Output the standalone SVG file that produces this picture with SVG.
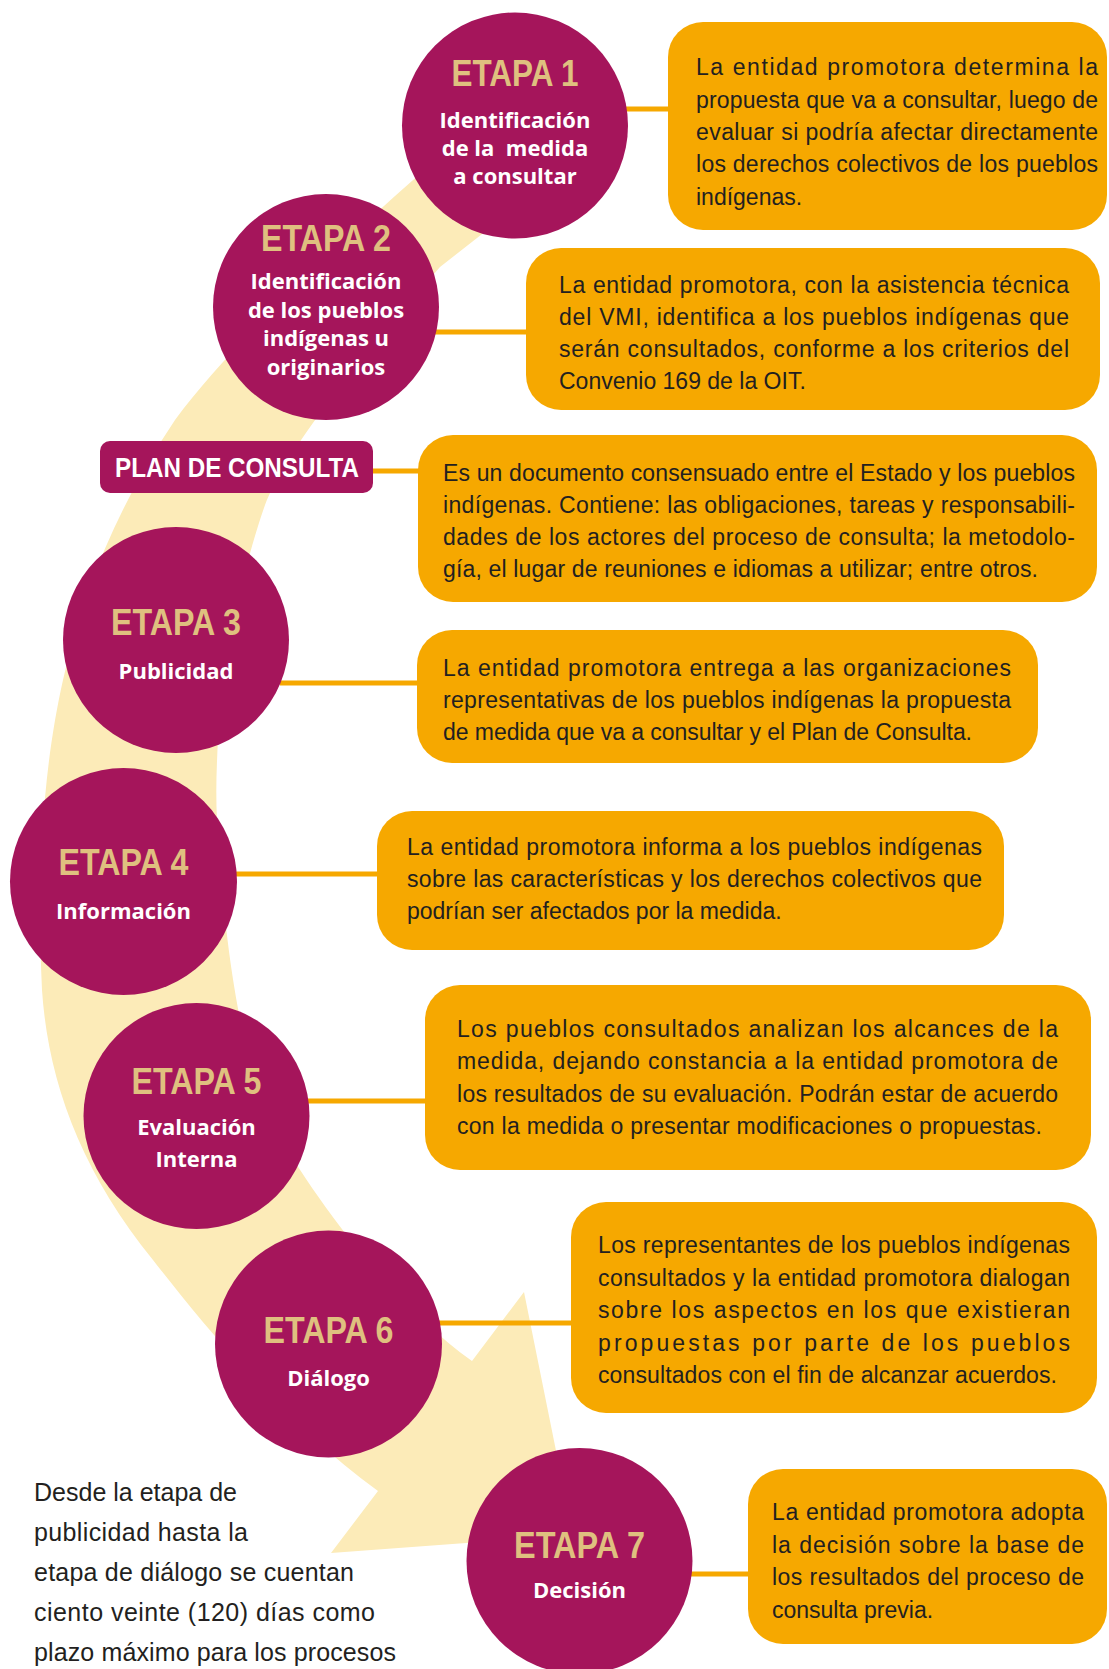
<svg xmlns="http://www.w3.org/2000/svg" width="1109" height="1669" viewBox="0 0 1109 1669">
<style>
.band{fill:#FCEBB8}
.circ{fill:#A5155B}
.box{fill:#F6A800}
.conn{stroke:#F6A800;stroke-width:5;fill:none}
.title{font-family:"Liberation Sans Narrow","Liberation Sans",Arial,sans-serif;font-weight:700;font-size:36px;fill:#DFC07F;text-anchor:middle}
.sub{font-family:"Open Sans","Liberation Sans",sans-serif;font-weight:700;font-size:22px;fill:#FFFFFF;text-anchor:middle}
.body{font-family:"Liberation Sans",Arial,sans-serif;font-size:23px;fill:#231F20}
.note{font-family:"Liberation Sans",Arial,sans-serif;font-size:25px;fill:#231F20}
.plan{font-family:"Liberation Sans Narrow","Liberation Sans",Arial,sans-serif;font-weight:700;font-size:28px;fill:#FFFFFF}
</style>
<rect width="1109" height="1669" fill="#FFFFFF"/>
<g id="band">
<path class="band" d="M 430 165 L 395 196 C 330 255 230 345 175 420 C 125 495 85 580 63 680 C 45 760 36 860 42 990 C 48 1080 80 1170 153 1260 C 200 1320 280 1420 378 1491 L 331 1553 L 573 1535 L 524 1292 L 472 1361 C 400 1310 320 1210 270 1120 C 240 1050 225 950 217 820 C 212 720 235 590 265 505 C 285 455 330 395 440 267 L 500 220 Z"/>
</g>
<g id="connectors">
<line class="conn" x1="620" y1="109" x2="670" y2="109"/>
<line class="conn" x1="430" y1="332" x2="528" y2="332"/>
<line class="conn" x1="370" y1="471" x2="420" y2="471"/>
<line class="conn" x1="280" y1="683" x2="419" y2="683"/>
<line class="conn" x1="230" y1="874" x2="379" y2="874"/>
<line class="conn" x1="300" y1="1101" x2="427" y2="1101"/>
<line class="conn" x1="435" y1="1323" x2="573" y2="1323"/>
<line class="conn" x1="685" y1="1574" x2="750" y2="1574"/>
</g>
<g id="etapa1">
<circle class="circ" cx="515" cy="125.5" r="113"/>
<text class="title" x="515" y="86" textLength="127" lengthAdjust="spacingAndGlyphs">ETAPA 1</text>
<text class="sub" x="515" y="128">Identificación</text>
<text class="sub" x="515" y="156" xml:space="preserve">de la  medida</text>
<text class="sub" x="515" y="184">a consultar</text>
</g>
<g id="box1">
<rect class="box" x="668" y="22" width="439" height="208" rx="35"/>
<text class="body" x="696" y="75" textLength="402" lengthAdjust="spacing">La entidad promotora determina la</text>
<text class="body" x="696" y="107.5" textLength="402" lengthAdjust="spacing">propuesta que va a consultar, luego de</text>
<text class="body" x="696" y="140" textLength="402" lengthAdjust="spacing">evaluar si podría afectar directamente</text>
<text class="body" x="696" y="172" textLength="402" lengthAdjust="spacing">los derechos colectivos de los pueblos</text>
<text class="body" x="696" y="204.5">indígenas.</text>
</g>
<g id="etapa2">
<circle class="circ" cx="326" cy="307" r="113"/>
<text class="title" x="326" y="251" textLength="130" lengthAdjust="spacingAndGlyphs">ETAPA 2</text>
<text class="sub" x="326" y="289">Identificación</text>
<text class="sub" x="326" y="317.5">de los pueblos</text>
<text class="sub" x="326" y="346">indígenas u</text>
<text class="sub" x="326" y="374.5">originarios</text>
</g>
<g id="box2">
<rect class="box" x="526" y="248" width="574" height="162" rx="35"/>
<text class="body" x="559" y="293" textLength="510" lengthAdjust="spacing">La entidad promotora, con la asistencia técnica</text>
<text class="body" x="559" y="325" textLength="510" lengthAdjust="spacing">del VMI, identifica a los pueblos indígenas que</text>
<text class="body" x="559" y="357" textLength="510" lengthAdjust="spacing">serán consultados, conforme a los criterios del</text>
<text class="body" x="559" y="389">Convenio 169 de la OIT.</text>
</g>
<g id="plan">
<rect class="circ" x="100" y="441" width="273" height="52" rx="10"/>
<text class="plan" x="115" y="477" textLength="244" lengthAdjust="spacingAndGlyphs">PLAN DE CONSULTA</text>
</g>
<g id="box3">
<rect class="box" x="418" y="435" width="679" height="167" rx="35"/>
<text class="body" x="443" y="481" textLength="632" lengthAdjust="spacing">Es un documento consensuado entre el Estado y los pueblos</text>
<text class="body" x="443" y="513" textLength="632" lengthAdjust="spacing">indígenas. Contiene: las obligaciones, tareas y responsabili-</text>
<text class="body" x="443" y="545" textLength="632" lengthAdjust="spacing">dades de los actores del proceso de consulta; la metodolo-</text>
<text class="body" x="443" y="577" textLength="595" lengthAdjust="spacing">gía, el lugar de reuniones e idiomas a utilizar; entre otros.</text>
</g>
<g id="etapa3">
<circle class="circ" cx="176" cy="640" r="113"/>
<text class="title" x="176" y="635" textLength="130" lengthAdjust="spacingAndGlyphs">ETAPA 3</text>
<text class="sub" x="176" y="679">Publicidad</text>
</g>
<g id="box4">
<rect class="box" x="417" y="630" width="621" height="133" rx="35"/>
<text class="body" x="443" y="676" textLength="568" lengthAdjust="spacing">La entidad promotora entrega a las organizaciones</text>
<text class="body" x="443" y="708" textLength="568" lengthAdjust="spacing">representativas de los pueblos indígenas la propuesta</text>
<text class="body" x="443" y="740" textLength="529" lengthAdjust="spacing">de medida que va a consultar y el Plan de Consulta.</text>
</g>
<g id="etapa4">
<circle class="circ" cx="123.5" cy="881.5" r="113.5"/>
<text class="title" x="123.5" y="875" textLength="130" lengthAdjust="spacingAndGlyphs">ETAPA 4</text>
<text class="sub" x="123.5" y="919">Información</text>
</g>
<g id="box5">
<rect class="box" x="377" y="811" width="627" height="139" rx="35"/>
<text class="body" x="407" y="855" textLength="575" lengthAdjust="spacing">La entidad promotora informa a los pueblos indígenas</text>
<text class="body" x="407" y="887" textLength="575" lengthAdjust="spacing">sobre las características y los derechos colectivos que</text>
<text class="body" x="407" y="919">podrían ser afectados por la medida.</text>
</g>
<g id="etapa5">
<circle class="circ" cx="196.5" cy="1116" r="113"/>
<text class="title" x="196.5" y="1094" textLength="130" lengthAdjust="spacingAndGlyphs">ETAPA 5</text>
<text class="sub" x="196.5" y="1135">Evaluación</text>
<text class="sub" x="196.5" y="1167">Interna</text>
</g>
<g id="box6">
<rect class="box" x="425" y="985" width="666" height="185" rx="35"/>
<text class="body" x="457" y="1037" textLength="601" lengthAdjust="spacing">Los pueblos consultados analizan los alcances de la</text>
<text class="body" x="457" y="1069" textLength="601" lengthAdjust="spacing">medida, dejando constancia a la entidad promotora de</text>
<text class="body" x="457" y="1102" textLength="601" lengthAdjust="spacing">los resultados de su evaluación. Podrán estar de acuerdo</text>
<text class="body" x="457" y="1134" textLength="585" lengthAdjust="spacing">con la medida o presentar modificaciones o propuestas.</text>
</g>
<g id="etapa6">
<circle class="circ" cx="328.5" cy="1344" r="113.5"/>
<text class="title" x="328.5" y="1343" textLength="130" lengthAdjust="spacingAndGlyphs">ETAPA 6</text>
<text class="sub" x="328.5" y="1386">Diálogo</text>
</g>
<g id="box7">
<rect class="box" x="571" y="1202" width="526" height="211" rx="35"/>
<text class="body" x="598" y="1253" textLength="472" lengthAdjust="spacing">Los representantes de los pueblos indígenas</text>
<text class="body" x="598" y="1286" textLength="472" lengthAdjust="spacing">consultados y la entidad promotora dialogan</text>
<text class="body" x="598" y="1318" textLength="472" lengthAdjust="spacing">sobre los aspectos en los que existieran</text>
<text class="body" x="598" y="1351" textLength="472" lengthAdjust="spacing">propuestas por parte de los pueblos</text>
<text class="body" x="598" y="1383" textLength="459" lengthAdjust="spacing">consultados con el fin de alcanzar acuerdos.</text>
</g>
<g id="etapa7">
<circle class="circ" cx="579.5" cy="1561" r="113"/>
<text class="title" x="579.5" y="1558" textLength="131" lengthAdjust="spacingAndGlyphs">ETAPA 7</text>
<text class="sub" x="579.5" y="1598">Decisión</text>
</g>
<g id="box8">
<rect class="box" x="748" y="1469" width="359" height="175" rx="35"/>
<text class="body" x="772" y="1520" textLength="312" lengthAdjust="spacing">La entidad promotora adopta</text>
<text class="body" x="772" y="1553" textLength="312" lengthAdjust="spacing">la decisión sobre la base de</text>
<text class="body" x="772" y="1585" textLength="312" lengthAdjust="spacing">los resultados del proceso de</text>
<text class="body" x="772" y="1618">consulta previa.</text>
</g>
<g id="note">
<text class="note" x="34" y="1501" textLength="203" lengthAdjust="spacing">Desde la etapa de</text>
<text class="note" x="34" y="1541" textLength="214" lengthAdjust="spacing">publicidad hasta la</text>
<text class="note" x="34" y="1581" textLength="320" lengthAdjust="spacing">etapa de diálogo se cuentan</text>
<text class="note" x="34" y="1621" textLength="341" lengthAdjust="spacing">ciento veinte (120) días como</text>
<text class="note" x="34" y="1661" textLength="362" lengthAdjust="spacing">plazo máximo para los procesos</text>
</g>
</svg>
